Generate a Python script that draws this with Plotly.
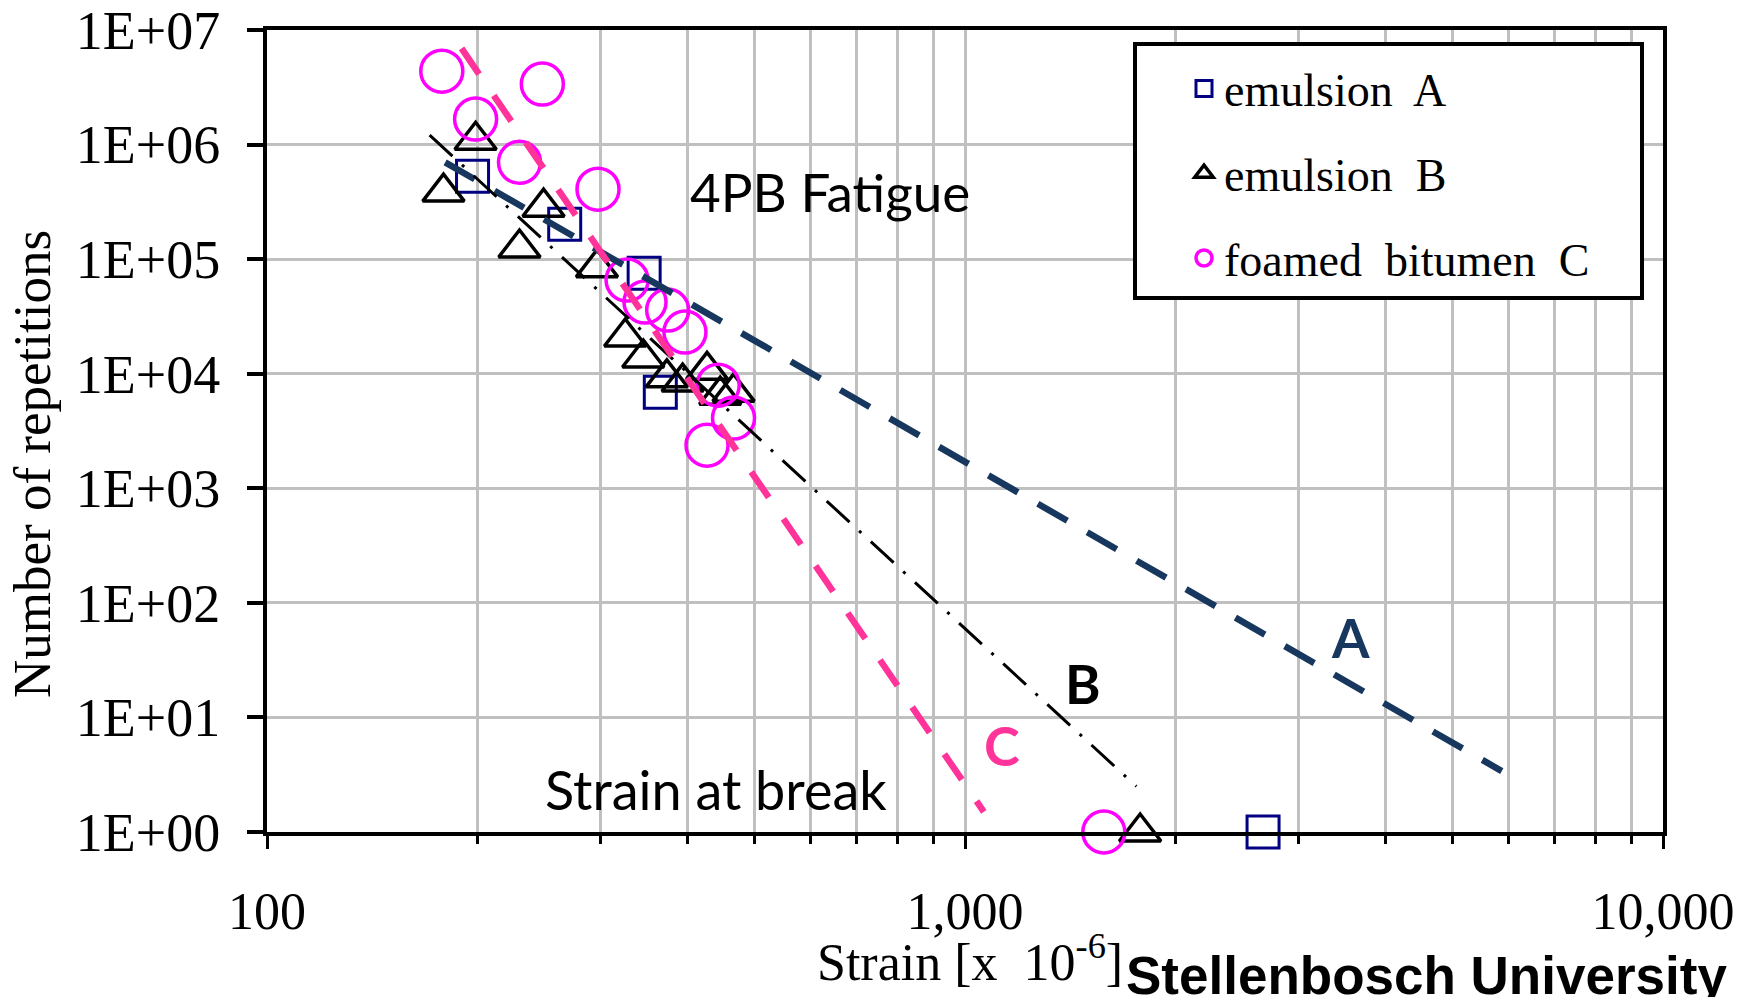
import plotly.graph_objects as go

# ---------------- data ----------------
emulsionA_strain = [197, 267, 347, 366, 2673]
emulsionA_reps = [5.3e5, 2.02e5, 7.55e4, 6.9e3, 1]

emulsionB_strain = [179, 199, 230, 249, 297, 326, 346, 374, 394, 427, 446, 466, 1782]
emulsionB_reps = [3.85e5, 1.09e6, 1.25e5, 2.84e5, 8.4e4, 2.09e4, 1.37e4, 9.2e3, 8.45e3, 1.07e4, 6.5e3, 6.9e3, 1]

foamedC_strain = [178, 199, 248, 230, 298, 328, 348, 375, 397, 443, 466, 427, 1581]
foamedC_reps = [4.37e6, 1.67e6, 3.37e6, 7.0e5, 4.08e5, 6.56e4, 4.22e4, 3.59e4, 2.31e4, 7.95e3, 4.1e3, 2.38e3, 1]

# fatigue lines (end points)
lineA_strain = [180, 5875]
lineA_reps = [7.0e5, 3.4]
lineB_strain = [171, 1760]
lineB_reps = [1.21e6, 2.5]
lineC_strain = [190, 1064]
lineC_reps = [6.9e6, 1.5]

x_tickvals = [100, 1000, 10000]
x_ticktext = ["100", "1,000", "10,000"]
x_minorvals = [200, 300, 400, 500, 600, 700, 800, 900,
               2000, 3000, 4000, 5000, 6000, 7000, 8000, 9000]
y_tickvals = [1, 10, 100, 1e3, 1e4, 1e5, 1e6, 1e7]
y_ticktext = ["1E+00", "1E+01", "1E+02", "1E+03", "1E+04", "1E+05", "1E+06", "1E+07"]

# ---------------- layout geometry ----------------
W, H = 1742, 997
L, R, T, B = 267, 1663, 30, 832


def px_x(p):
    return (p - L) / (R - L)


def px_y(p):
    return (B - p) / (B - T)


SERIF = "Liberation Serif, Times New Roman, serif"
SANS = "Lato, Calibri, sans-serif"

fig = go.Figure()

fig.add_trace(go.Scatter(
    x=emulsionA_strain, y=emulsionA_reps, mode="markers", name="emulsion  A",
    legendgroup="a", cliponaxis=False,
    marker=dict(symbol="square-open", size=32, color="#000080", line=dict(width=3, color="#000080"))))
fig.add_trace(go.Scatter(
    x=emulsionB_strain, y=emulsionB_reps, mode="markers", name="emulsion  B",
    legendgroup="b", cliponaxis=False,
    marker=dict(symbol="triangle-up-open", size=36, color="black", line=dict(width=3.5, color="black"))))
fig.add_trace(go.Scatter(
    x=foamedC_strain, y=foamedC_reps, mode="markers", name="foamed  bitumen  C",
    legendgroup="c", cliponaxis=False,
    marker=dict(symbol="circle-open", size=42, color="#FF00FF", line=dict(width=3.5, color="#FF00FF"))))

fig.add_trace(go.Scatter(x=lineA_strain, y=lineA_reps, mode="lines", showlegend=False,
                         line=dict(color="#17375E", width=6.5, dash="34px,23px")))
fig.add_trace(go.Scatter(x=lineB_strain, y=lineB_reps, mode="lines", showlegend=False,
                         line=dict(color="black", width=3, dash="31px,13px,3px,13px")))
fig.add_trace(go.Scatter(x=lineC_strain, y=lineC_reps, mode="lines", showlegend=False,
                         line=dict(color="#FF3399", width=6.5, dash="31px,26px")))

shapes = [
    # white text boxes hiding gridlines
    dict(type="rect", xref="paper", yref="paper", x0=px_x(650), x1=px_x(1060), y0=px_y(227), y1=px_y(133),
         fillcolor="white", line=dict(width=0), layer="between"),
    dict(type="rect", xref="paper", yref="paper", x0=px_x(520), x1=px_x(945), y0=px_y(830), y1=px_y(728),
         fillcolor="white", line=dict(width=0), layer="between"),
    # legend frame
    dict(type="rect", xref="paper", yref="paper", x0=px_x(1135), x1=px_x(1642), y0=px_y(298), y1=px_y(44),
         fillcolor="white", line=dict(width=4, color="black"), layer="above"),
]

annotations = [
    dict(text="4PB Fatigue", x=px_x(830), y=px_y(191), font=dict(family=SANS, size=53, color="black")),
    dict(text="Strain at break", x=px_x(716), y=px_y(789), font=dict(family=SANS, size=54, color="black")),
    dict(text="<b>A</b>", x=px_x(1350), y=px_y(637), font=dict(family=SANS, size=54, color="#17375E")),
    dict(text="<b>B</b>", x=px_x(1083), y=px_y(683), font=dict(family=SANS, size=54, color="black")),
    dict(text="<b>C</b>", x=px_x(1002), y=px_y(745), font=dict(family=SANS, size=54, color="#FF3399")),
    dict(text="Number of repetitions", x=px_x(32), y=px_y(464), textangle=-90,
         font=dict(family=SERIF, size=53, color="black")),
    dict(text="Strain [x  10<sup>-6</sup>]", x=px_x(970), y=px_y(958),
         font=dict(family=SERIF, size=52, color="black")),
    dict(text="<b>Stellenbosch University</b>", x=px_x(1426), y=px_y(975),
         font=dict(family="Liberation Sans, Arial, sans-serif", size=53, color="black")),
]
for a in annotations:
    a.update(xref="paper", yref="paper", showarrow=False, xanchor="center", yanchor="middle")

fig.update_layout(
    width=W, height=H,
    margin=dict(l=L, r=W - R, t=T, b=H - B, autoexpand=False),
    paper_bgcolor="white", plot_bgcolor="white",
    shapes=shapes, annotations=annotations,
    showlegend=True,
    legend=dict(x=px_x(1184), y=px_y(52), xanchor="left", yanchor="top",
                bgcolor="rgba(0,0,0,0)", borderwidth=0, tracegroupgap=22,
                font=dict(family=SERIF, size=46, color="black")),
    xaxis=dict(type="log", range=[2, 4], tickvals=x_tickvals, ticktext=x_ticktext,
               showgrid=True, gridcolor="#C0C0C0", gridwidth=3,
               ticks="outside", ticklen=13, tickwidth=3, tickcolor="black",
               showline=True, linecolor="black", linewidth=4, mirror=True,
               ticklabelstandoff=18,
               tickfont=dict(family=SERIF, size=52, color="black"),
               minor=dict(tickvals=x_minorvals, showgrid=True, gridcolor="#C0C0C0", gridwidth=3,
                          ticks="outside", ticklen=8, tickwidth=3, tickcolor="black"),
               zeroline=False),
    yaxis=dict(type="log", range=[0, 7], tickvals=y_tickvals, ticktext=y_ticktext,
               showgrid=True, gridcolor="#C0C0C0", gridwidth=3,
               ticks="outside", ticklen=16, tickwidth=4, tickcolor="black",
               showline=True, linecolor="black", linewidth=4, mirror=True,
               ticklabelstandoff=16,
               tickfont=dict(family=SERIF, size=54, color="black"),
               zeroline=False),
)

fig.write_html("out.html")
